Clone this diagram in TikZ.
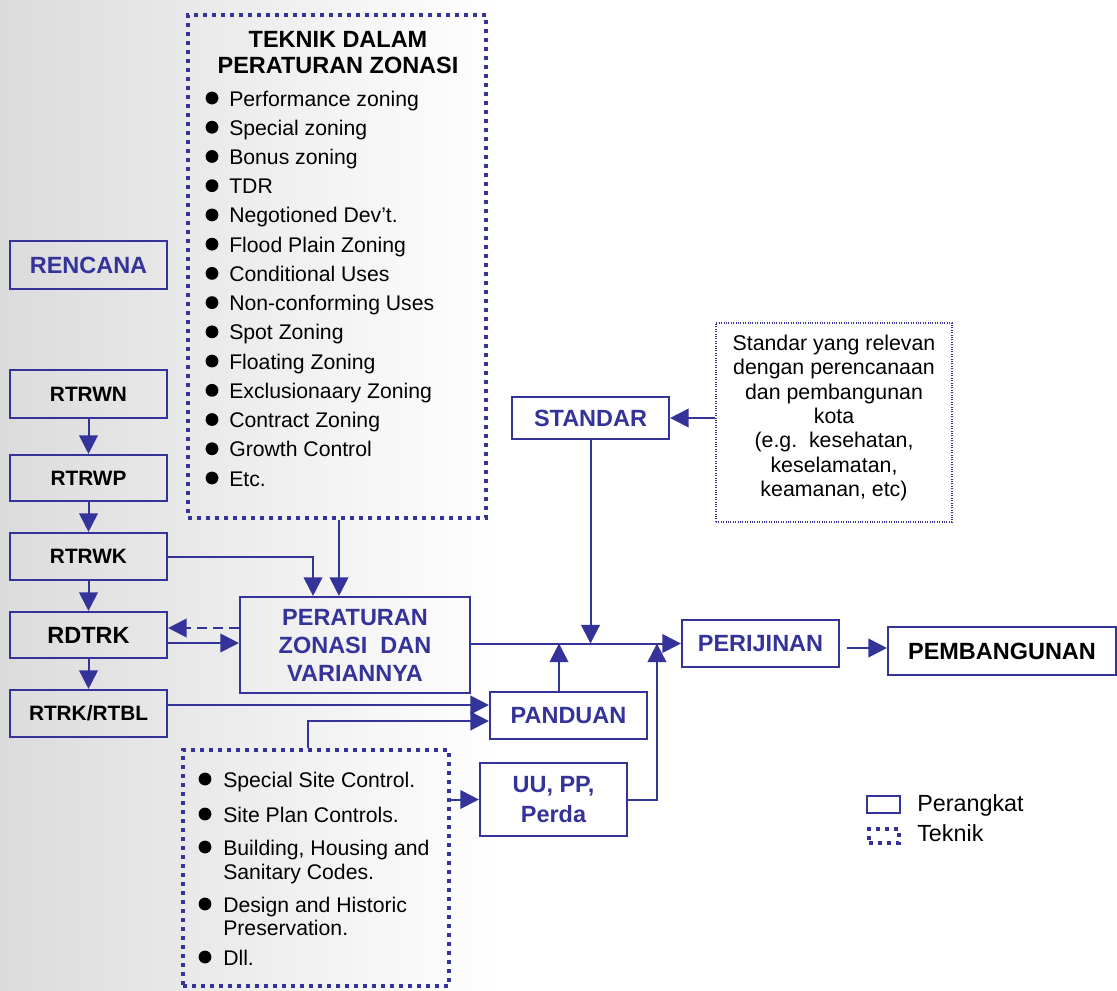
\documentclass[tikz,border=0pt]{standalone}
\usepackage{fontspec}
\setmainfont{Liberation Sans}
\usetikzlibrary{arrows.meta,calc}
\definecolor{navy}{RGB}{51,51,153}
% font sizes
\newcommand\fsbig{\fontsize{17.6pt}{21pt}\selectfont\bfseries}
\newcommand\fstitle{\fontsize{17.6pt}{19.5pt}\selectfont\bfseries}
\newcommand\fsuu{\fontsize{17.6pt}{22.5pt}\selectfont\bfseries}
\newcommand\fsmid{\fontsize{15.6pt}{18pt}\selectfont\bfseries}
\newcommand\fsitem{\fontsize{15.9pt}{18pt}\selectfont}
\newcommand\fsnote{\fontsize{16pt}{18.2pt}\selectfont}
\newcommand\fslegend{\fontsize{17.5pt}{20pt}\selectfont}
\begin{document}
\begin{tikzpicture}[x=0.75pt,y=-0.75pt,
  sz/.style 2 args={minimum width=#1*0.75pt, minimum height=#2*0.75pt},
  box/.style={draw=navy, line width=1.6pt, inner sep=0pt, align=center},
  bluetext/.style={text=navy},
  tekbox/.style={draw=navy, line width=3pt, dash pattern=on 3pt off 3.75pt, inner sep=0pt},
  notebox/.style={draw=navy, line width=0.8pt, densely dotted, inner sep=0pt},
  arr/.style={draw=navy, line width=1.5pt, -{Triangle[length=14pt,width=14pt]}},
  item/.style={anchor=base west, font=\fsitem, inner sep=0pt},
  dot/.style={radius=4.8pt},
]
% canvas and left shading
\fill[white] (0,0) rectangle (1117,990);
\shade[left color=black!14, right color=white] (0,0) rectangle (500,990);
\useasboundingbox (0,0) rectangle (1117,990);

% left column
\node[box,bluetext,sz={157}{48},font=\fsbig] (ren) at (88.5,265) {RENCANA};
\node[box,sz={157}{48},font=\fsmid] (rtrwn) at (88.5,394) {RTRWN};
\node[box,sz={157}{46},font=\fsmid] (rtrwp) at (88.5,478) {RTRWP};
\node[box,sz={157}{47},font=\fsmid] (rtrwk) at (88.5,556.5) {RTRWK};
\node[box,sz={157}{46},font=\fsbig] (rdtrk) at (88.5,635) {RDTRK};
\node[box,sz={157}{47},font=\fsmid] (rtrk) at (88.5,713.5) {RTRK/RTBL};

% zoning techniques
\node[tekbox,sz={298}{503}] (tek) at (337,266.5) {};
\node[align=center, inner sep=0pt, font=\fstitle] (tektitle) at (338,53) {TEKNIK DALAM\\PERATURAN ZONASI};
\foreach \t [count=\i from 0] in {Performance zoning, Special zoning, Bonus zoning, TDR,
  Negotioned Dev’t., Flood Plain Zoning, Conditional Uses, Non-conforming Uses,
  Spot Zoning, Floating Zoning, Exclusionaary Zoning, Contract Zoning, Growth Control, Etc.}{
  \fill (212,98+\i*29.23) circle[dot];
  \node[item] (tk\i) at (229,106+\i*29.23) {\t};
}

% central chain
\node[box,bluetext,sz={230}{96},font=\fsbig] (per) at (355,645) {PERATURAN\\ZONASI\ \ DAN\\VARIANNYA};
\node[box,bluetext,sz={157}{42},font=\fsbig] (std) at (590.5,418) {STANDAR};
\node[notebox,sz={236}{199}] (stdnote) at (834,422.5) {};
\node[align=center, inner sep=0pt, font=\fsnote] (stdtext) at (834,418)
  {Standar yang relevan\\dengan perencanaan\\dan pembangunan\\kota\\(e.g.\ \ kesehatan,\\keselamatan,\\keamanan, etc)};
\node[box,bluetext,sz={157}{47},font=\fsbig] (pan) at (568.5,715.5) {PANDUAN};
\node[box,bluetext,sz={147}{73},font=\fsuu] (uu) at (553.5,799.5) {UU, PP,\\Perda};
\node[box,bluetext,sz={157}{47},font=\fsbig] (peri) at (760.5,643.5) {PERIJINAN};
\node[box,sz={228}{48},font=\fsbig] (pemb) at (1002,651) {PEMBANGUNAN};

% site controls
\node[tekbox,sz={266}{236}] (site) at (316,868) {};
\foreach \y in {779,814,847,904,957}{\fill (205,\y) circle[dot];}
\node[item] (s1) at (223,787) {Special Site Control.};
\node[item] (s2) at (223,822) {Site Plan Controls.};
\node[item] (s3) at (223,855) {Building, Housing and};
\node[item] (s3b) at (223,879) {Sanitary Codes.};
\node[item] (s4) at (223,912) {Design and Historic};
\node[item] (s4b) at (223,935) {Preservation.};
\node[item] (s5) at (223,965) {Dll.};

% legend
\node[box,sz={33}{17}] (legA) at (883.5,804.5) {};
\node[tekbox,sz={30}{14}] (legB) at (883.5,836) {};
\node[anchor=west, font=\fslegend, inner sep=0pt] (legAt) at (917,805) {Perangkat};
\node[anchor=west, font=\fslegend, inner sep=0pt] (legBt) at (917,833) {Teknik};

% connectors: plan hierarchy
\draw[arr] (rtrwn) -- (rtrwp);
\draw[arr] (rtrwp) -- (rtrwk);
\draw[arr] (rtrwk) -- (rdtrk);
\draw[arr] (rdtrk) -- (rtrk);

% into zoning regulation
\coordinate (perA) at ($(per.north)+(-42,0)$);
\draw[arr] (rtrwk.east) -| (perA);
\coordinate (tekO) at ($(tek.south)+(2,0)$);
\draw[arr] (tekO) -- (tekO |- per.north);
\coordinate (perB) at ($(per.west)+(0,-17)$);
\draw[arr, dash pattern=on 7.5pt off 4.5pt] (perB) -- (perB -| rdtrk.east);
\coordinate (perC) at ($(per.west)+(0,-2)$);
\draw[arr] (perC -| rdtrk.east) -- (perC);

% main line to permits
\draw[arr] (per.east |- peri.west) -- (peri.west);
\draw[arr] (std.south) -- (std.south |- peri.west);
\draw[arr] (stdnote.west |- std.east) -- (std.east);
\coordinate (panT) at ($(pan.north)+(-9.5,0)$);
\draw[arr] (panT) -- (panT |- peri.west);

% guidance and regulations
\coordinate (panA) at ($(pan.west)+(0,-10.5)$);
\draw[arr] (panA -| rtrk.east) -- (panA);
\coordinate (panB) at ($(pan.west)+(0,5.5)$);
\coordinate (siteT) at ($(site.north)+(-8,0)$);
\draw[arr] (siteT) |- (panB);
\draw[arr] (site.east |- uu.west) -- (uu.west);
\coordinate (periB) at ($(peri.west)+(-24,0)$);
\draw[arr] (uu.east) -| (periB);

% permits to development
\coordinate (pembA) at ($(pemb.west)+(0,-3)$);
\coordinate (periO) at ($(peri.east)+(7,0)$);
\draw[arr] (periO |- pembA) -- (pembA);
\end{tikzpicture}
\end{document}
